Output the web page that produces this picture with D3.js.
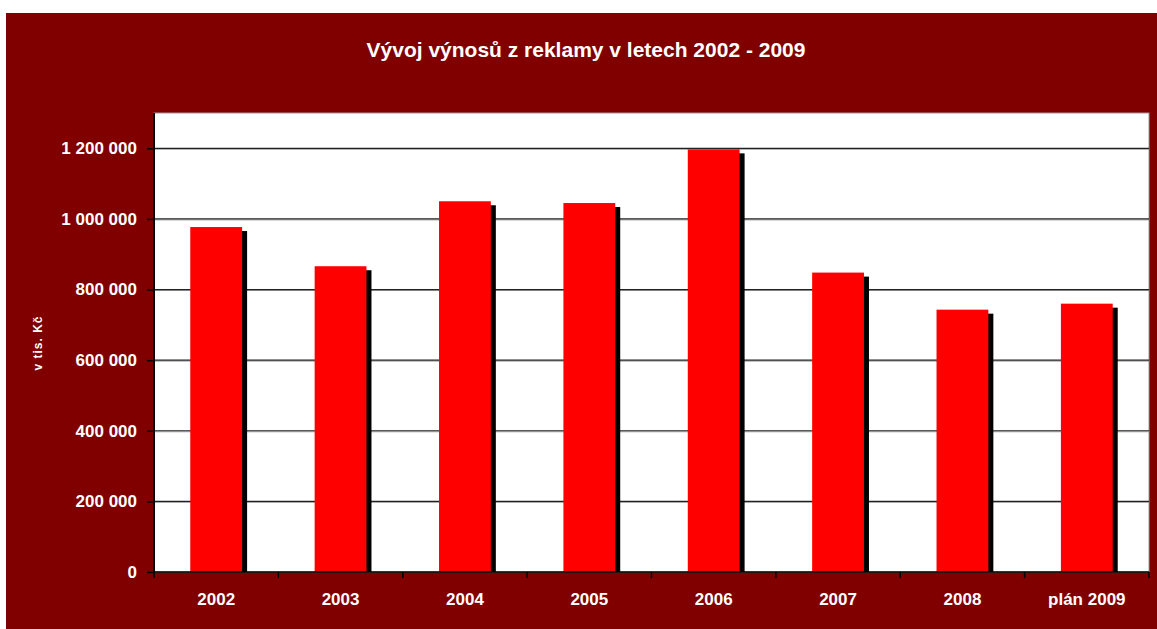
<!DOCTYPE html>
<html><head><meta charset="utf-8">
<script src="https://cdn.jsdelivr.net/npm/d3@7"></script>
<style>
html,body{margin:0;padding:0;background:#fff;}
svg{display:block;font-family:"Liberation Sans",Arial,sans-serif;}
</style></head>
<body><svg id="c" width="1157" height="629"></svg>
<script>
const categories = ["2002","2003","2004","2005","2006","2007","2008","plán 2009"];
const values = [977000, 866000, 1050000, 1045000, 1197000, 848000, 743000, 760000];
const yTicks = [0, 200000, 400000, 600000, 800000, 1000000, 1200000];
const yMax = 1300000;
const title = "Vývoj výnosů z reklamy v letech 2002 - 2009";
const yTitle = "v tis. Kč";

const svg = d3.select("#c");
const W = 1157, H = 629;
const plot = {l:154, r:1149, t:113, b:572};

svg.append("rect").attr("x",6).attr("y",13).attr("width",W-6).attr("height",H-13).attr("fill","#800000");

const x = d3.scaleBand().domain(categories).range([plot.l, plot.r]).padding(0);
const y = d3.scaleLinear().domain([0, yMax]).range([plot.b, plot.t]);

// plot area
svg.append("rect").attr("x",plot.l).attr("y",plot.t).attr("width",plot.r-plot.l).attr("height",plot.b-plot.t)
  .attr("fill","#fff").attr("stroke","#9a9a9a").attr("stroke-width",1);

// gridlines
const grid = svg.append("g");
grid.selectAll("line.g2").data(yTicks.filter(d=>d>0)).join("line")
  .attr("x1",plot.l).attr("x2",plot.r).attr("y1",d=>y(d)+1).attr("y2",d=>y(d)+1)
  .attr("stroke","#a0a0a0").attr("stroke-width",1);
grid.selectAll("line.g1").data(yTicks.filter(d=>d>0)).join("line")
  .attr("x1",plot.l).attr("x2",plot.r).attr("y1",d=>y(d)).attr("y2",d=>y(d))
  .attr("stroke","#222").attr("stroke-width",1.2);

// bars
const bw = x.bandwidth()/2.4;
const off = (x.bandwidth()-bw)/2;
const bars = svg.append("g");
bars.selectAll("rect.sh").data(categories).join("rect")
  .attr("x",(d)=>x(d)+off+5).attr("y",(d,i)=>y(values[i])+4)
  .attr("width",bw).attr("height",(d,i)=>plot.b-y(values[i])-4)
  .attr("fill","#000");
bars.selectAll("rect.b").data(categories).join("rect")
  .attr("x",(d)=>x(d)+off).attr("y",(d,i)=>y(values[i]))
  .attr("width",bw).attr("height",(d,i)=>plot.b-y(values[i]))
  .attr("fill","#ff0000");

// y axis
const fmt = d => d3.format(",")(d).replace(/,/g," ");
const ya = svg.append("g").attr("transform",`translate(${plot.l},0)`)
  .call(d3.axisLeft(y).tickValues(yTicks).tickSize(7).tickPadding(10).tickFormat(fmt));
ya.select(".domain").remove();
ya.append("line").attr("x1",0).attr("x2",0).attr("y1",plot.t).attr("y2",plot.b+1).attr("stroke","#000").attr("stroke-width",2);
ya.selectAll(".tick line").attr("stroke","#000").attr("stroke-width",1.5);
ya.selectAll(".tick text").attr("fill","#fff").attr("font-size","17px").attr("font-weight","bold")
  .attr("font-family","Liberation Sans, Arial, sans-serif");

// x axis
const xa = svg.append("g").attr("transform",`translate(0,${plot.b})`);
xa.append("line").attr("x1",plot.l).attr("x2",plot.r).attr("y1",0).attr("y2",0).attr("stroke","#000").attr("stroke-width",1.5);
const bounds = categories.map(d=>x(d)).concat([plot.r]);
xa.selectAll("line.t").data(bounds).join("line")
  .attr("x1",d=>d).attr("x2",d=>d).attr("y1",0).attr("y2",6).attr("stroke","#000").attr("stroke-width",1.5);
xa.selectAll("text").data(categories).join("text")
  .attr("x",d=>x(d)+x.bandwidth()/2).attr("y",33).attr("text-anchor","middle")
  .attr("fill","#fff").attr("font-size","17px").attr("font-weight","bold").text(d=>d);

// titles
svg.append("text").attr("x",586).attr("y",57).attr("text-anchor","middle")
  .attr("fill","#fff").attr("font-size","21px").attr("font-weight","bold").text(title);
svg.append("text").attr("transform","translate(42,343) rotate(-90)").attr("text-anchor","middle")
  .attr("fill","#fff").attr("font-size","12px").attr("font-weight","bold").attr("letter-spacing","1px").text(yTitle);
</script></body></html>
